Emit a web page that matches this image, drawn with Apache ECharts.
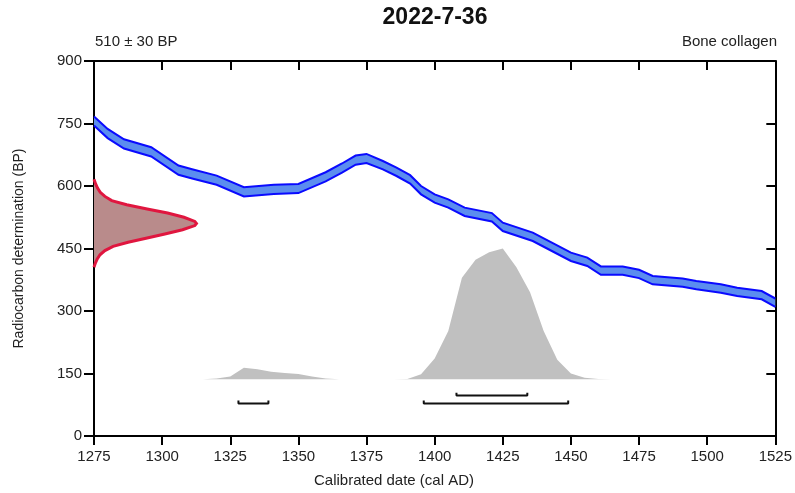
<!DOCTYPE html>
<html>
<head>
<meta charset="utf-8">
<script src="https://cdn.jsdelivr.net/npm/echarts@6.0.0/dist/echarts.min.js"></script>
<style>
  html, body { margin: 0; padding: 0; background: #fff; }
  #chart { width: 795px; height: 493px; }
</style>
</head>
<body>
<div id="chart"></div>
<script>
// calibration curve (cal AD vs BP), centre and 1 sigma
const calYears = [1275, 1280, 1286, 1296, 1306, 1311, 1320, 1330, 1341, 1350, 1360, 1366, 1371, 1375, 1381, 1386, 1391, 1395, 1400, 1405, 1411, 1421, 1425, 1436, 1443, 1450, 1456, 1461, 1469, 1475, 1480, 1491, 1496, 1505, 1511, 1520, 1525]
const calBP    = [756, 726, 701, 682, 638, 629, 614, 586, 592, 594, 622, 643, 662, 666, 650, 634, 616, 590, 570, 558, 538, 525, 502, 478, 454, 430, 418, 397, 397, 389, 374, 368, 362, 354, 346, 338, 320]
const calErr   = [11, 11, 11, 11, 11, 11, 11, 11, 11, 11, 11, 11, 11, 11, 10, 10, 10, 10, 10, 10, 10, 10, 10, 10, 10, 10, 10, 10, 10, 10, 10, 10, 10, 10, 10, 10, 10]

// measured radiocarbon age 510 +/- 30 BP, drawn along the y axis
const measBP     = [616, 605, 595, 585, 575, 565, 555, 545, 535, 525, 515, 510, 505, 495, 485, 475, 465, 455, 445, 435, 425, 415, 405]
const measHeight = [0, 0.6, 1.3, 2.3, 4, 6.5, 12, 19.5, 27, 33, 37, 37.6, 37, 32.5, 26, 19.5, 12.5, 7, 4, 2.2, 1.2, 0.5, 0]

// calibrated probability distribution
const probYears = [1305, 1310, 1315, 1320, 1325, 1330, 1335, 1340, 1345, 1350, 1355, 1360, 1365, 1370, 1375, 1380, 1385, 1390, 1395, 1400, 1405, 1410, 1415, 1420, 1425, 1430, 1435, 1440, 1445, 1450, 1455, 1460, 1465, 1470, 1475]
const probBP    = [136, 136, 136.5, 138, 143, 164, 160, 154, 151, 149, 143, 138, 136, 136, 136, 136, 136, 137, 148, 186, 252, 380, 423, 441, 450, 405, 345, 252, 183, 150, 140, 137, 136, 136, 136]

// highest probability ranges
const range68 = [[1408, 1434]]
const range95 = [[1328, 1339], [1396, 1449]]

const xTicks = [1275, 1300, 1325, 1350, 1375, 1400, 1425, 1450, 1475, 1500, 1525]
const yTicks = [0, 150, 300, 450, 600, 750, 900]

const chart = echarts.init(document.getElementById('chart'))

const FONT = 'Liberation Sans, Arial, sans-serif'
const PROB_BASE = 136

function bracketSeries(ranges, level) {
  const pts = []
  ranges.forEach(([a, b]) => {
    pts.push([a, level + 7], [a, level], [b, level], [b, level + 7], null)
  })
  return {
    type: 'line',
    data: pts,
    connectNulls: false,
    symbol: 'none',
    silent: true,
    lineStyle: { color: '#111', width: 2 },
    z: 5,
  }
}

const axisCommon = {
  axisLine: { show: true, onZero: false, lineStyle: { color: '#000', width: 2 } },
  splitLine: { show: false },
}
const tickStyle = { color: '#000', width: 2 }

chart.setOption({
  animation: false,
  grid: { left: 94, right: 17, top: 61, bottom: 57 },
  xAxis: [
    {
      ...axisCommon,
      type: 'value',
      position: 'bottom',
      min: xTicks[0],
      max: xTicks[xTicks.length - 1],
      interval: 25,
      axisTick: { show: true, length: 9, lineStyle: tickStyle },
      axisLabel: { fontFamily: FONT, fontSize: 15, color: '#222', margin: 13, formatter: v => String(v) },
    },
    {
      ...axisCommon,
      type: 'value',
      position: 'top',
      min: xTicks[0],
      max: xTicks[xTicks.length - 1],
      interval: 25,
      axisTick: { show: true, inside: true, length: 9, lineStyle: tickStyle },
      axisLabel: { show: false },
    },
  ],
  yAxis: [
    {
      ...axisCommon,
      type: 'value',
      position: 'left',
      min: yTicks[0],
      max: yTicks[yTicks.length - 1],
      interval: 150,
      axisTick: { show: true, length: 10, lineStyle: tickStyle },
      axisLabel: { fontFamily: FONT, fontSize: 15, color: '#222', margin: 12 },
      name: 'Radiocarbon determination (BP)',
      nameLocation: 'middle',
      nameGap: 68,
      nameTextStyle: { fontFamily: FONT, fontSize: 14, color: '#222' },
    },
    {
      ...axisCommon,
      type: 'value',
      position: 'right',
      min: yTicks[0],
      max: yTicks[yTicks.length - 1],
      interval: 150,
      axisTick: { show: true, inside: true, length: 9, lineStyle: tickStyle },
      axisLabel: { show: false },
    },
  ],
  graphic: [
    { type: 'text', x: 435, y: 18, style: { text: '2022-7-36', font: 'bold 23px ' + FONT, fill: '#111', align: 'center', verticalAlign: 'middle' } },
    { type: 'text', x: 95, y: 42, style: { text: '510 ± 30 BP', font: '15px ' + FONT, fill: '#222', align: 'left', verticalAlign: 'middle' } },
    { type: 'text', x: 777, y: 42, style: { text: 'Bone collagen', font: '15px ' + FONT, fill: '#222', align: 'right', verticalAlign: 'middle' } },
    { type: 'text', x: 394, y: 481, style: { text: 'Calibrated date (cal AD)', font: '15px ' + FONT, fill: '#222', align: 'center', verticalAlign: 'middle' } },
  ],
  series: [
    {
      name: 'prob',
      type: 'line',
      data: probYears.map((y, i) => [y, probBP[i]]),
      symbol: 'none',
      lineStyle: { width: 0 },
      areaStyle: { color: '#c0c0c0', opacity: 1, origin: PROB_BASE },
      z: 1,
    },
    {
      name: 'calibration',
      type: 'custom',
      data: [0],
      z: 3,
      renderItem: (params, api) => {
        const upper = calYears.map((y, i) => api.coord([y, calBP[i] + calErr[i]]))
        const lower = calYears.map((y, i) => api.coord([y, calBP[i] - calErr[i]]))
        return {
          type: 'group',
          children: [
            { type: 'polygon', shape: { points: upper.concat(lower.slice().reverse()) }, style: { fill: '#5b8def', stroke: 'none' } },
            { type: 'polyline', shape: { points: upper }, style: { fill: 'none', stroke: '#0a0aff', lineWidth: 2 } },
            { type: 'polyline', shape: { points: lower }, style: { fill: 'none', stroke: '#0a0aff', lineWidth: 2 } },
          ],
        }
      },
    },
    {
      name: 'measured',
      type: 'custom',
      data: [0],
      z: 4,
      renderItem: (params, api) => {
        const pts = measBP.map((bp, i) => api.coord([xTicks[0] + measHeight[i], bp]))
        const base = [api.coord([xTicks[0], measBP[0]]), api.coord([xTicks[0], measBP[measBP.length - 1]])]
        return {
          type: 'group',
          children: [
            { type: 'polygon', shape: { points: pts.concat([base[1], base[0]]) }, style: { fill: '#b98b8b', stroke: 'none' } },
            { type: 'polyline', shape: { points: pts }, style: { fill: 'none', stroke: '#e0163f', lineWidth: 3 } },
          ],
        }
      },
    },
    bracketSeries(range68, 97),
    bracketSeries(range95, 78),
  ],
})
</script>
</body>
</html>
